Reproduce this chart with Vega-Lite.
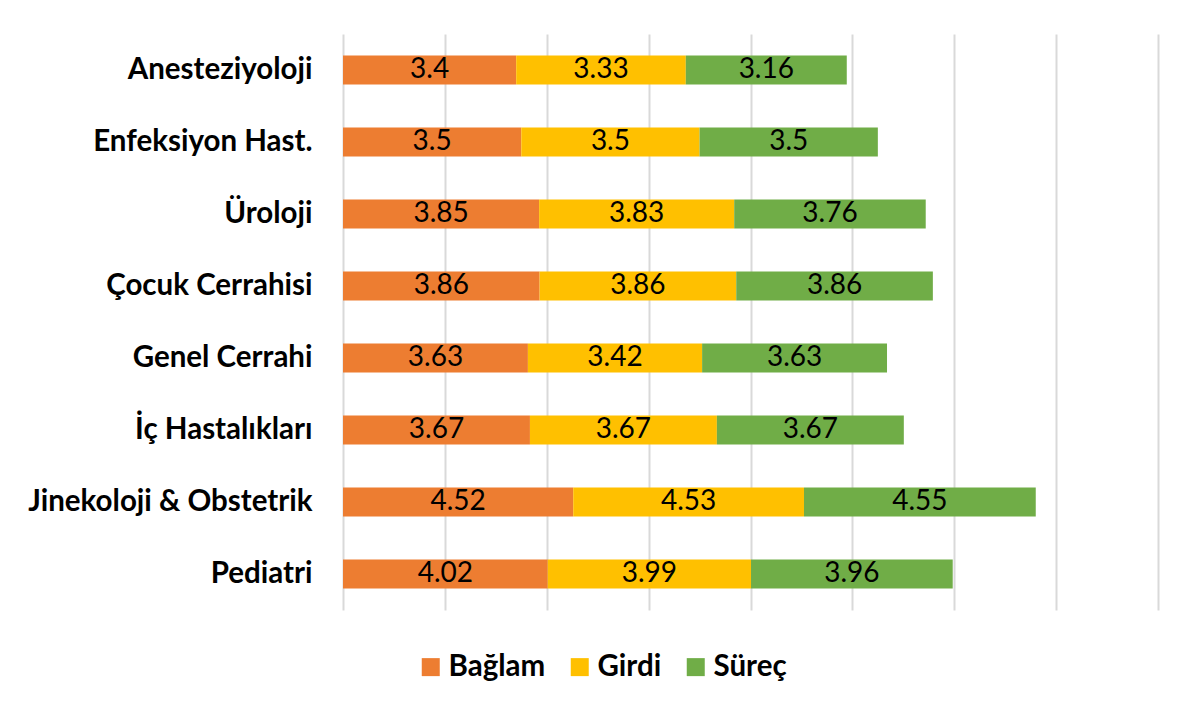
{
  "$schema": "https://vega.github.io/schema/vega-lite/v6.json",
  "width": 815,
  "height": 576,
  "autosize": {"type": "none"},
  "padding": {"left": 343, "top": 34, "right": 22, "bottom": 99},
  "background": "white",
  "config": {"view": {"stroke": null}, "font": "Lato"},
  "data": {
    "values": [
      {"dept": "Anesteziyoloji", "series": "Bağlam", "value": 3.4},
      {"dept": "Anesteziyoloji", "series": "Girdi", "value": 3.33},
      {"dept": "Anesteziyoloji", "series": "Süreç", "value": 3.16},
      {"dept": "Enfeksiyon Hast.", "series": "Bağlam", "value": 3.5},
      {"dept": "Enfeksiyon Hast.", "series": "Girdi", "value": 3.5},
      {"dept": "Enfeksiyon Hast.", "series": "Süreç", "value": 3.5},
      {"dept": "Üroloji", "series": "Bağlam", "value": 3.85},
      {"dept": "Üroloji", "series": "Girdi", "value": 3.83},
      {"dept": "Üroloji", "series": "Süreç", "value": 3.76},
      {"dept": "Çocuk Cerrahisi", "series": "Bağlam", "value": 3.86},
      {"dept": "Çocuk Cerrahisi", "series": "Girdi", "value": 3.86},
      {"dept": "Çocuk Cerrahisi", "series": "Süreç", "value": 3.86},
      {"dept": "Genel Cerrahi\u00a0", "series": "Bağlam", "value": 3.63},
      {"dept": "Genel Cerrahi\u00a0", "series": "Girdi", "value": 3.42},
      {"dept": "Genel Cerrahi\u00a0", "series": "Süreç", "value": 3.63},
      {"dept": "İç Hastalıkları", "series": "Bağlam", "value": 3.67},
      {"dept": "İç Hastalıkları", "series": "Girdi", "value": 3.67},
      {"dept": "İç Hastalıkları", "series": "Süreç", "value": 3.67},
      {"dept": "Jinekoloji & Obstetrik", "series": "Bağlam", "value": 4.52},
      {"dept": "Jinekoloji & Obstetrik", "series": "Girdi", "value": 4.53},
      {"dept": "Jinekoloji & Obstetrik", "series": "Süreç", "value": 4.55},
      {"dept": "Pediatri\u00a0", "series": "Bağlam", "value": 4.02},
      {"dept": "Pediatri\u00a0", "series": "Girdi", "value": 3.99},
      {"dept": "Pediatri\u00a0", "series": "Süreç", "value": 3.96}
    ]
  },
  "encoding": {
    "y": {
      "field": "dept",
      "type": "nominal",
      "sort": null,
      "scale": {"paddingInner": 0.6, "paddingOuter": 0.3},
      "axis": {
        "title": null,
        "domain": false,
        "ticks": false,
        "labelPadding": 31,
        "labelColor": "black",
        "labelFontWeight": "bold",
        "labelFontSize": 29.5,
        "labelFont": "Lato",
        "labelLimit": 500
      }
    }
  },
  "layer": [
    {
      "mark": {"type": "bar"},
      "encoding": {
        "x": {
          "field": "value",
          "type": "quantitative",
          "stack": "zero",
          "scale": {"domain": [0, 16], "nice": false},
          "axis": {
            "values": [0, 2, 4, 6, 8, 10, 12, 14, 16],
            "grid": true,
            "gridColor": "#d9d9d9",
            "gridWidth": 2,
            "labels": false,
            "ticks": false,
            "domain": false,
            "title": null
          }
        },
        "color": {
          "field": "series",
          "type": "nominal",
          "scale": {
            "domain": ["Bağlam", "Girdi", "Süreç"],
            "range": ["#ED7D31", "#FFC000", "#70AD47"]
          },
          "legend": {
            "orient": "none",
            "legendX": 73,
            "legendY": 618,
            "direction": "horizontal",
            "title": null,
            "symbolType": "square",
            "symbolSize": 324,
            "symbolStrokeWidth": 0,
            "labelFontSize": 29.5,
            "labelFontWeight": "bold",
            "labelFont": "Lato",
            "labelColor": "black",
            "columnPadding": 19,
            "labelOffset": 3
          }
        },
        "order": {"field": "series", "sort": "ascending"}
      }
    },
    {
      "mark": {"type": "text", "fontSize": 28, "color": "black", "baseline": "middle", "font": "Lato"},
      "encoding": {
        "x": {"field": "value", "type": "quantitative", "stack": "zero", "bandPosition": 0.5},
        "detail": {"field": "series"},
        "order": {"field": "series", "sort": "ascending"},
        "text": {"field": "value", "type": "quantitative"}
      }
    }
  ]
}
